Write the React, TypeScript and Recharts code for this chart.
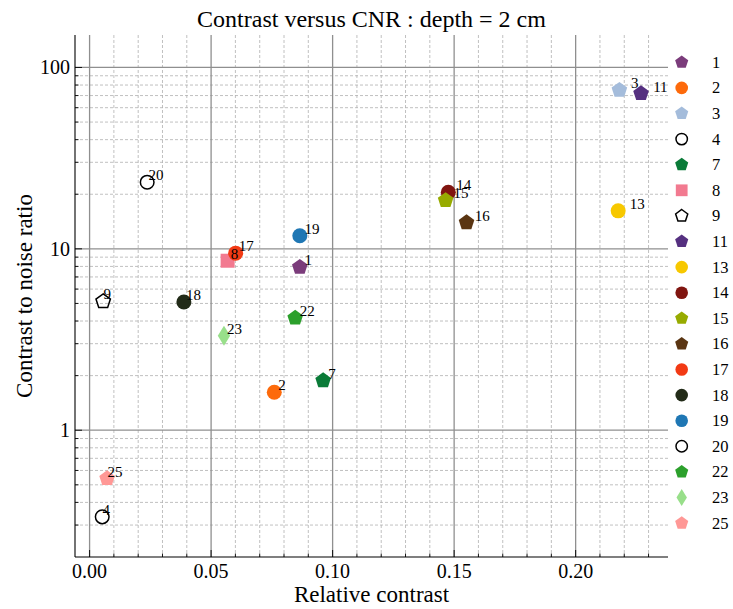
/**
 * Contrast versus CNR scatter (depth = 2 cm).
 * Log y axis, inward ticks on all four spines, major/minor grid, legend on the right.
 */

import React from 'react'
import { ScatterChart, Scatter, XAxis, YAxis, CartesianGrid, Label } from 'recharts'

const FONT = '"Liberation Serif", "Times New Roman", serif'

const sampleIds = ['1', '2', '3', '4', '7', '8', '9', '11', '13', '14', '15', '16', '17', '18', '19', '20', '22', '23', '25']
const relContrast = [0.0865, 0.076, 0.218, 0.0052, 0.0961, 0.0568, 0.0056, 0.2269, 0.2175, 0.1476, 0.1465, 0.1551, 0.0601, 0.0388, 0.0865, 0.0237, 0.0846, 0.0553, 0.0072]
const cnr = [7.93, 1.62, 75, 0.333, 1.88, 8.6, 5.13, 71.9, 16.2, 20.5, 18.5, 13.96, 9.47, 5.09, 11.8, 23.3, 4.16, 3.32, 0.542]
const markerColors = ['#7b3c7b', '#fd6a0b', '#a4bcdb', '#000000', '#0a7b38', '#f27a90', '#000000', '#553080', '#f7c800', '#801510', '#97ab00', '#5a3512', '#f23a14', '#222b18', '#1f77b4', '#000000', '#2ca02c', '#98df8a', '#ff9896']
const markerKinds = ['pentagon', 'circle', 'pentagon', 'openCircle', 'pentagon', 'square', 'openPentagon', 'pentagon', 'circle', 'circle', 'pentagon', 'pentagon', 'circle', 'circle', 'circle', 'openCircle', 'pentagon', 'thinDiamond', 'pentagon']

const xMajorTicks = [0, 0.05, 0.1, 0.15, 0.2]
const xMinorTicks = [0.01, 0.02, 0.03, 0.04, 0.06, 0.07, 0.08, 0.09, 0.11, 0.12, 0.13, 0.14, 0.16, 0.17, 0.18, 0.19, 0.21, 0.22, 0.23]
const yMajorTicks = [1, 10, 100]
const yMinorTicks = [0.3, 0.4, 0.5, 0.6, 0.7, 0.8, 0.9, 2, 3, 4, 5, 6, 7, 8, 9, 20, 30, 40, 50, 60, 70, 80, 90]

const X_DOMAIN: [number, number] = [-0.006, 0.238]
const Y_DOMAIN: [number, number] = [0.2, 151]

const xAllTicks = [...xMajorTicks, ...xMinorTicks].sort((a, b) => a - b)
const yAllTicks = [...yMajorTicks, ...yMinorTicks].sort((a, b) => a - b)

const isMajor = (v: number, majors: number[]) => majors.some((m) => Math.abs(m - v) < 1e-9)

function MarkerGlyph({ kind, color, cx, cy, scale = 1 }: any) {
  if (cx == null || cy == null) return null
  const s = scale
  if (kind === 'circle') return <circle cx={cx} cy={cy} r={7.5 * s} fill={color} />
  if (kind === 'openCircle') return <circle cx={cx} cy={cy} r={6.8 * s} fill="none" stroke="#000" strokeWidth={1.5} />
  if (kind === 'square') return <rect x={cx - 7 * s} y={cy - 7 * s} width={14 * s} height={14 * s} fill={color} />
  if (kind === 'thinDiamond') {
    const w = 6.2 * s
    const h = 10 * s
    return <polygon points={`${cx},${cy - h} ${cx + w},${cy} ${cx},${cy + h} ${cx - w},${cy}`} fill={color} />
  }
  const r = (kind === 'openPentagon' ? 7.6 : 8.2) * s
  const pts = [0, 1, 2, 3, 4]
    .map((k) => {
      const a = ((-90 + 72 * k) * Math.PI) / 180
      return `${cx + r * Math.cos(a)},${cy + r * Math.sin(a)}`
    })
    .join(' ')
  if (kind === 'openPentagon') return <polygon points={pts} fill="none" stroke="#000" strokeWidth={1.5} />
  return <polygon points={pts} fill={color} />
}

const BottomTick = ({ x, y, payload }: any) => {
  const major = isMajor(payload.value, xMajorTicks)
  return (
    <g>
      <line x1={x} x2={x} y1={y} y2={y - (major ? 7 : 3.5)} stroke="#000" strokeWidth={0.9} />
      {major && (
        <text x={x} y={y + 21} textAnchor="middle" fontSize={20} fontFamily={FONT} fill="#000">
          {payload.value.toFixed(2)}
        </text>
      )}
    </g>
  )
}

const TopTick = ({ x, y, payload }: any) => {
  const major = isMajor(payload.value, xMajorTicks)
  return <line x1={x} x2={x} y1={y} y2={y + (major ? 7 : 3.5)} stroke="#000" strokeWidth={0.9} />
}

const LeftTick = ({ x, y, payload }: any) => {
  const major = isMajor(payload.value, yMajorTicks)
  return (
    <g>
      <line x1={x} x2={x + (major ? 7 : 3.5)} y1={y} y2={y} stroke="#000" strokeWidth={0.9} />
      {major && (
        <text x={x - 5} y={y + 7} textAnchor="end" fontSize={20} fontFamily={FONT} fill="#000">
          {payload.value}
        </text>
      )}
    </g>
  )
}

const RightTick = ({ x, y, payload }: any) => {
  const major = isMajor(payload.value, yMajorTicks)
  return <line x1={x} x2={x - (major ? 7 : 3.5)} y1={y} y2={y} stroke="#000" strokeWidth={0.9} />
}

const points = sampleIds.map((id, i) => ({ id, x: relContrast[i], y: cnr[i] }))
// annotation sits a little up and right of each marker, like matplotlib's xytext=(1.02x, 1.025y)
const annotations = sampleIds.map((id, i) => ({ id, x: relContrast[i] * 1.022, y: cnr[i] * 1.025 }))

function ChartLegend() {
  return (
    <svg width={65} height={609} style={{ position: 'absolute', left: 668, top: 0 }}>
      {sampleIds.map((id, i) => {
        const cy = 62.3 + i * 25.6
        return (
          <g key={id}>
            <MarkerGlyph kind={markerKinds[i]} color={markerColors[i]} cx={13.7} cy={cy} scale={0.84} />
            <text x={44} y={cy + 5.5} fontSize={16.5} fontFamily={FONT} fill="#000">
              {id}
            </text>
          </g>
        )
      })}
    </svg>
  )
}

export default function App() {
  return (
    <div style={{ position: 'absolute', left: 0, top: 0, width: 733, height: 609, background: '#fff', fontFamily: FONT }}>
      <svg width={733} height={40} style={{ position: 'absolute', left: 0, top: 0 }}>
        <text x={371.5} y={26.5} textAnchor="middle" fontSize={24} fontFamily={FONT} fill="#000">
          Contrast versus CNR : depth = 2 cm
        </text>
      </svg>
      <div style={{ position: 'absolute', left: 0, top: 0 }}>
        <ScatterChart width={733} height={609} margin={{ top: 35, right: 65, bottom: 0, left: 0 }}>
          <CartesianGrid
            verticalValues={xMinorTicks}
            horizontalValues={yMinorTicks}
            stroke="#b0b0b0"
            strokeWidth={0.8}
            strokeDasharray="3 2"
          />
          <CartesianGrid verticalValues={xMajorTicks} horizontalValues={yMajorTicks} stroke="#8f8f8f" strokeWidth={1.3} />
          <XAxis
            type="number"
            dataKey="x"
            domain={X_DOMAIN}
            allowDataOverflow
            ticks={xAllTicks}
            interval={0}
            height={52}
            tickSize={0}
            tickMargin={0}
            tickLine={false}
            tick={<BottomTick />}
            axisLine={{ stroke: '#000', strokeWidth: 1.1 }}
          >
            <Label value="Relative contrast" position="insideBottom" offset={7} fontSize={23} fontFamily={FONT} fill="#000" />
          </XAxis>
          <XAxis
            xAxisId="top"
            orientation="top"
            type="number"
            dataKey="x"
            domain={X_DOMAIN}
            allowDataOverflow
            ticks={xAllTicks}
            interval={0}
            height={0}
            tickSize={0}
            tickMargin={0}
            tickLine={false}
            tick={<TopTick />}
            axisLine={{ stroke: '#000', strokeWidth: 1.1 }}
          />
          <YAxis
            type="number"
            dataKey="y"
            scale="log"
            domain={Y_DOMAIN}
            allowDataOverflow
            ticks={yAllTicks}
            interval={0}
            width={75}
            tickSize={0}
            tickMargin={0}
            tickLine={false}
            tick={<LeftTick />}
            axisLine={{ stroke: '#000', strokeWidth: 1.1 }}
          >
            <Label
              value="Contrast to noise ratio"
              position="insideLeft"
              angle={-90}
              offset={24}
              style={{ textAnchor: 'middle' }}
              fontSize={23}
              fontFamily={FONT}
              fill="#000"
            />
          </YAxis>
          <YAxis
            yAxisId="right"
            orientation="right"
            type="number"
            dataKey="y"
            scale="log"
            domain={Y_DOMAIN}
            allowDataOverflow
            ticks={yAllTicks}
            interval={0}
            width={0}
            tickSize={0}
            tickMargin={0}
            tickLine={false}
            tick={<RightTick />}
            axisLine={{ stroke: '#000', strokeWidth: 1.1 }}
          />
          {points.map((p, i) => (
            <Scatter
              key={p.id}
              name={p.id}
              data={[p]}
              isAnimationActive={false}
              shape={(props: any) => (
                <MarkerGlyph kind={markerKinds[i]} color={markerColors[i]} cx={props.cx} cy={props.cy} />
              )}
            />
          ))}
          <Scatter
            name="labels"
            data={annotations}
            isAnimationActive={false}
            shape={(props: any) => (
              <text x={props.cx} y={props.cy} fontSize={15} fontFamily={FONT} fill="#000">
                {props.payload.id}
              </text>
            )}
          />
        </ScatterChart>
      </div>
      <ChartLegend />
    </div>
  )
}
